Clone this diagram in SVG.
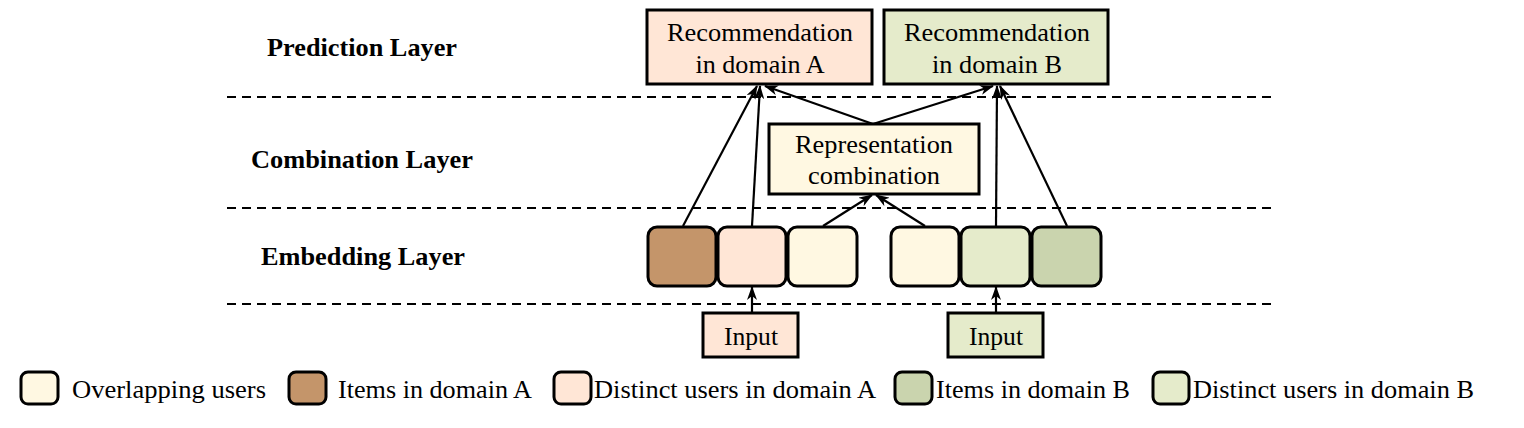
<svg xmlns="http://www.w3.org/2000/svg" width="1524" height="428" viewBox="0 0 1524 428" font-family="Liberation Serif, Times New Roman, serif">
<style>
text{font-family:'Liberation Serif','Times New Roman',Times,serif;fill:#000}
.t{font-size:25px;text-anchor:middle}
.lbl{font-size:25px;font-weight:bold;text-anchor:middle}
.leg{font-size:25px}
.box{stroke:#000;stroke-width:3}
.emb{stroke:#000;stroke-width:3}
.dash{stroke:#000;stroke-width:2;stroke-dasharray:9 6;fill:none}
.con{stroke:#000;stroke-width:2.2;fill:none;marker-end:url(#ah)}
.cA{fill:#FFE6D6}.cB{fill:#E5EBCB}.cO{fill:#FFF8E2}.iA{fill:#C4956A}.iB{fill:#CAD4AE}
</style>
<defs>
<marker id="ah" viewBox="0 0 14 10" refX="13" refY="5" markerWidth="14" markerHeight="10" markerUnits="userSpaceOnUse" orient="auto">
<path d="M0,0 L14,5 L0,10 L4,5 Z" fill="#000"/>
</marker>
</defs>
<rect width="1524" height="428" fill="#fff"/>
<g id="layers">
<line class="dash" x1="227" y1="97" x2="1272" y2="97"/>
<line class="dash" x1="227" y1="208" x2="1272" y2="208"/>
<line class="dash" x1="227" y1="304" x2="1272" y2="304"/>
<text class="lbl" x="362" y="56" textLength="190" lengthAdjust="spacingAndGlyphs">Prediction Layer</text>
<text class="lbl" x="362" y="168" textLength="222" lengthAdjust="spacingAndGlyphs">Combination Layer</text>
<text class="lbl" x="363" y="265" textLength="204" lengthAdjust="spacingAndGlyphs">Embedding Layer</text>
</g>
<g id="recA"><rect class="box cA" x="647" y="10" width="225" height="74"/>
<text class="t" x="760" y="41" textLength="186" lengthAdjust="spacingAndGlyphs">Recommendation</text>
<text class="t" x="760" y="73" textLength="129" lengthAdjust="spacingAndGlyphs">in domain A</text></g>
<g id="recB"><rect class="box cB" x="884" y="10" width="224" height="74"/>
<text class="t" x="997" y="41" textLength="186" lengthAdjust="spacingAndGlyphs">Recommendation</text>
<text class="t" x="997" y="73" textLength="130" lengthAdjust="spacingAndGlyphs">in domain B</text></g>
<g id="comb"><rect class="box cO" x="769" y="124" width="210" height="70"/>
<text class="t" x="874" y="153" textLength="158" lengthAdjust="spacingAndGlyphs">Representation</text>
<text class="t" x="874" y="184" textLength="132" lengthAdjust="spacingAndGlyphs">combination</text></g>
<g id="e1"><rect class="emb iA" x="648" y="227" width="68" height="59" rx="9"/></g>
<g id="e2"><rect class="emb cA" x="718" y="227" width="68" height="59" rx="9"/></g>
<g id="e3"><rect class="emb cO" x="788" y="227" width="69" height="59" rx="9"/></g>
<g id="e4"><rect class="emb cO" x="891" y="227" width="68" height="59" rx="9"/></g>
<g id="e5"><rect class="emb cB" x="961" y="227" width="69" height="59" rx="9"/></g>
<g id="e6"><rect class="emb iB" x="1032" y="227" width="69" height="59" rx="9"/></g>
<g id="inA"><rect class="box cA" x="703" y="313" width="95" height="44"/>
<text class="t" x="751" y="345" textLength="54" lengthAdjust="spacingAndGlyphs">Input</text></g>
<g id="inB"><rect class="box cB" x="948" y="313" width="95" height="44"/>
<text class="t" x="996" y="345" textLength="54" lengthAdjust="spacingAndGlyphs">Input</text></g>
<g id="connectors">
<line class="con" x1="683" y1="226" x2="757" y2="86"/>
<line class="con" x1="752" y1="226" x2="760" y2="86"/>
<line class="con" x1="873" y1="124" x2="765" y2="86"/>
<line class="con" x1="873" y1="124" x2="993" y2="86"/>
<line class="con" x1="996" y1="226" x2="997" y2="86"/>
<line class="con" x1="1067" y1="226" x2="1000" y2="86"/>
<line class="con" x1="823" y1="226" x2="872" y2="195"/>
<line class="con" x1="925" y1="226" x2="876" y2="195"/>
<line class="con" x1="752" y1="313" x2="752" y2="287"/>
<line class="con" x1="996" y1="313" x2="996" y2="287"/>
</g>
<g id="legend">
<rect class="emb cO" x="21" y="372" width="37" height="32" rx="7"/>
<text class="leg" x="72" y="398" textLength="194" lengthAdjust="spacingAndGlyphs">Overlapping users</text>
<rect class="emb iA" x="289" y="372" width="37" height="32" rx="7"/>
<text class="leg" x="338" y="398" textLength="194" lengthAdjust="spacingAndGlyphs">Items in domain A</text>
<rect class="emb cA" x="554" y="372" width="37" height="32" rx="7"/>
<text class="leg" x="594" y="398" textLength="282" lengthAdjust="spacingAndGlyphs">Distinct users in domain A</text>
<rect class="emb iB" x="895" y="372" width="37" height="32" rx="7"/>
<text class="leg" x="936" y="398" textLength="194" lengthAdjust="spacingAndGlyphs">Items in domain B</text>
<rect class="emb cB" x="1153" y="372" width="36" height="32" rx="7"/>
<text class="leg" x="1193" y="398" textLength="281" lengthAdjust="spacingAndGlyphs">Distinct users in domain B</text>
</g>
</svg>
